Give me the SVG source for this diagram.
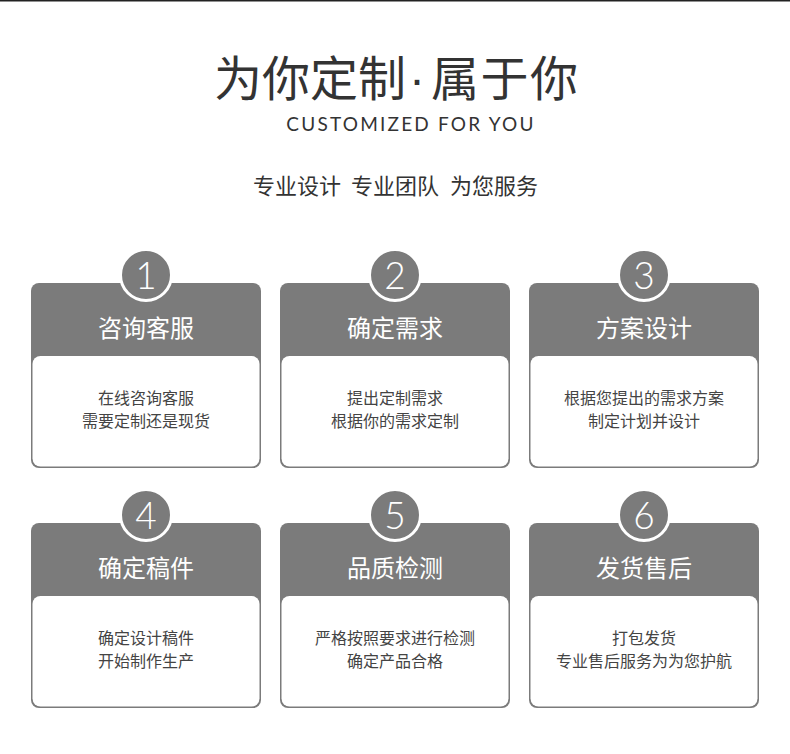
<svg xmlns="http://www.w3.org/2000/svg" width="790" height="754" viewBox="0 0 790 754">
<style>
.cn{font-family:"Noto Sans CJK SC","Noto Sans",sans-serif}
.card{fill:#7b7b7b}
.panel{fill:#ffffff}
.badge{fill:#7b7b7b;stroke:#ffffff;stroke-width:3}
.num{font-family:"Lato","Noto Sans",sans-serif;font-weight:300;font-size:37px;fill:#ffffff;text-anchor:middle}
.ttl{font-size:24px;fill:#ffffff;text-anchor:middle}
.body{font-size:16px;fill:#444444;text-anchor:middle}
.h1{font-size:48px;fill:#333333}
.h3{font-size:22px;fill:#333333}
</style>
<rect x="0" y="0" width="790" height="754" fill="#ffffff"/>
<rect x="0" y="0" width="790" height="1.5" fill="#222222"/>
<g id="header">
<text class="cn h1" x="214" y="96">为你定制</text>
<text x="417" y="96" font-family="'Liberation Sans',sans-serif" font-size="48" fill="#333333" text-anchor="middle">·</text>
<text class="cn h1" x="431" y="96" letter-spacing="1.5">属于你</text>
<text x="411" y="131" font-family="Lato,'Noto Sans',sans-serif" font-size="19" letter-spacing="2.2" fill="#333333" text-anchor="middle">CUSTOMIZED FOR YOU</text>
<text class="cn h3" x="253" y="193.5">专业设计</text>
<text class="cn h3" x="351" y="193.5">专业团队</text>
<text class="cn h3" x="450" y="193.5">为您服务</text>
</g>
<g id="connectors"></g>
<g id="card1" transform="translate(31,283)">
<rect class="card" x="0" y="0" width="230" height="185" rx="8"/>
<rect class="panel" x="1.5" y="73" width="227" height="110.5" rx="8"/>
<circle class="badge" cx="115" cy="-8" r="25.5"/>
<text class="num" x="115" y="6">1</text>
<text class="cn ttl" x="115" y="54">咨询客服</text>
<text class="cn body" x="115" y="121">在线咨询客服</text>
<text class="cn body" x="115" y="144">需要定制还是现货</text>
</g>
<g id="card2" transform="translate(280,283)">
<rect class="card" x="0" y="0" width="230" height="185" rx="8"/>
<rect class="panel" x="1.5" y="73" width="227" height="110.5" rx="8"/>
<circle class="badge" cx="115" cy="-8" r="25.5"/>
<text class="num" x="115" y="6">2</text>
<text class="cn ttl" x="115" y="54">确定需求</text>
<text class="cn body" x="115" y="121">提出定制需求</text>
<text class="cn body" x="115" y="144">根据你的需求定制</text>
</g>
<g id="card3" transform="translate(529,283)">
<rect class="card" x="0" y="0" width="230" height="185" rx="8"/>
<rect class="panel" x="1.5" y="73" width="227" height="110.5" rx="8"/>
<circle class="badge" cx="115" cy="-8" r="25.5"/>
<text class="num" x="115" y="6">3</text>
<text class="cn ttl" x="115" y="54">方案设计</text>
<text class="cn body" x="115" y="121">根据您提出的需求方案</text>
<text class="cn body" x="115" y="144">制定计划并设计</text>
</g>
<g id="card4" transform="translate(31,523)">
<rect class="card" x="0" y="0" width="230" height="185" rx="8"/>
<rect class="panel" x="1.5" y="73" width="227" height="110.5" rx="8"/>
<circle class="badge" cx="115" cy="-8" r="25.5"/>
<text class="num" x="115" y="6">4</text>
<text class="cn ttl" x="115" y="54">确定稿件</text>
<text class="cn body" x="115" y="121">确定设计稿件</text>
<text class="cn body" x="115" y="144">开始制作生产</text>
</g>
<g id="card5" transform="translate(280,523)">
<rect class="card" x="0" y="0" width="230" height="185" rx="8"/>
<rect class="panel" x="1.5" y="73" width="227" height="110.5" rx="8"/>
<circle class="badge" cx="115" cy="-8" r="25.5"/>
<text class="num" x="115" y="6">5</text>
<text class="cn ttl" x="115" y="54">品质检测</text>
<text class="cn body" x="115" y="121">严格按照要求进行检测</text>
<text class="cn body" x="115" y="144">确定产品合格</text>
</g>
<g id="card6" transform="translate(529,523)">
<rect class="card" x="0" y="0" width="230" height="185" rx="8"/>
<rect class="panel" x="1.5" y="73" width="227" height="110.5" rx="8"/>
<circle class="badge" cx="115" cy="-8" r="25.5"/>
<text class="num" x="115" y="6">6</text>
<text class="cn ttl" x="115" y="54">发货售后</text>
<text class="cn body" x="115" y="121">打包发货</text>
<text class="cn body" x="115" y="144">专业售后服务为为您护航</text>
</g>
</svg>
